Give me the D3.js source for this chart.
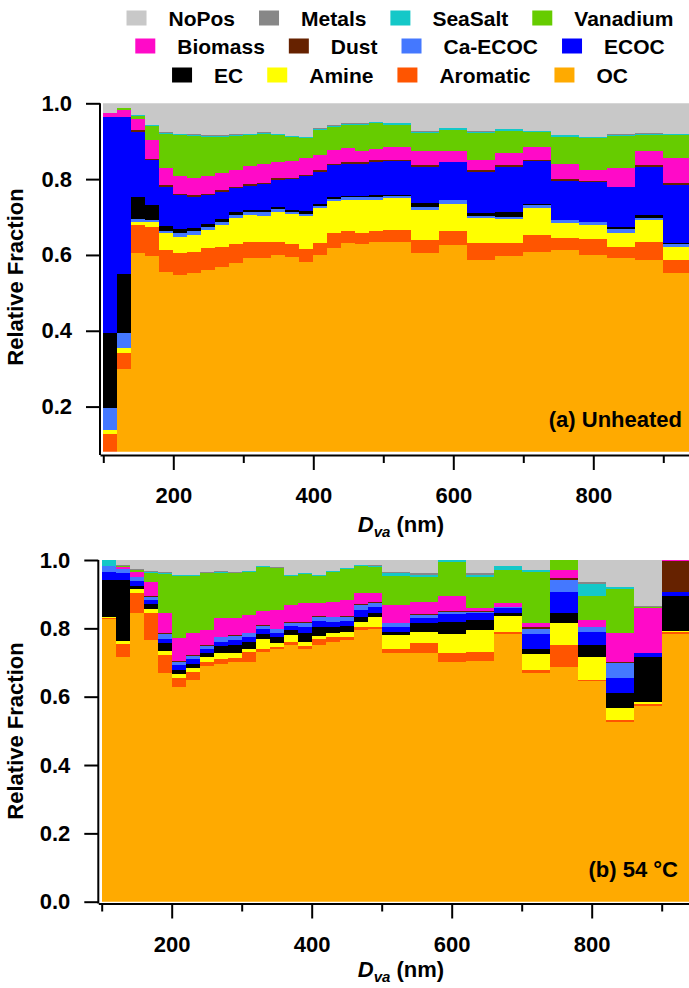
<!DOCTYPE html>
<html>
<head>
<meta charset="utf-8">
<script src="https://cdn.jsdelivr.net/npm/d3@7/dist/d3.min.js"></script>
<style>
  body { margin: 0; background: #fff; }
  text { font-family: "Liberation Sans", Arial, sans-serif; font-weight: bold; fill: #000; }
</style>
</head>
<body>
<div id="chart"></div>
<script>
// Size bins (nm): 20 nm up to 500, 40 nm above
const binEdges = [100,120,140,160,180,200,220,240,260,280,300,320,340,360,380,400,420,440,460,480,500,
                  540,580,620,660,700,740,780,820,860,900,940];

// legend order (top of stack first)
const categories = ['NoPos','Metals','SeaSalt','Vanadium','Biomass','Dust','Ca-ECOC','ECOC','EC','Amine','Aromatic','OC'];
const colors = {
  'NoPos': '#c8c8c8', 'Metals': '#878787', 'SeaSalt': '#14c8c8', 'Vanadium': '#66cc00',
  'Biomass': '#ff0ac8', 'Dust': '#662200', 'Ca-ECOC': '#4478ff', 'ECOC': '#0000ff',
  'EC': '#000000', 'Amine': '#ffff00', 'Aromatic': '#ff5500', 'OC': '#ffaa00'
};

// stacking order, bottom to top
const stackOrderA = ['OC','Aromatic','Amine','Ca-ECOC','EC','ECOC','Dust','Biomass','Vanadium','SeaSalt','Metals','NoPos'];
const stackOrderB = ['OC','Aromatic','Amine','EC','ECOC','Ca-ECOC','Dust','Biomass','Vanadium','SeaSalt','Metals','NoPos'];

// (a) Unheated - relative fraction per size bin
const unheatedOC       = [.040,.298,.604,.596,.556,.547,.552,.560,.569,.578,.591,.591,.600,.594,.582,.600,.618,.631,.629,.635,.635,.606,.626,.587,.596,.609,.613,.600,.591,.587,.552];
const unheatedAromatic = [.088,.043,.075,.079,.057,.057,.057,.058,.053,.051,.044,.042,.035,.035,.033,.031,.039,.031,.028,.027,.031,.034,.036,.044,.035,.044,.031,.041,.031,.048,.035];
const unheatedAmine    = [.010,.014,.009,.013,.044,.044,.044,.048,.057,.068,.071,.070,.079,.079,.088,.092,.084,.083,.088,.083,.083,.079,.073,.066,.063,.070,.040,.038,.035,.056,.035];
const unheatedCaECOC   = [.059,.038,.006,.004,.007,.009,.009,.009,.009,.009,.008,.009,.006,.005,.005,.006,.006,.007,.007,.007,.006,.008,.010,.006,.007,.009,.007,.007,.011,.007,.007];
const unheatedEC       = [.197,.156,.060,.040,.013,.011,.008,.007,.006,.006,.005,.007,.006,.006,.009,.006,.007,.004,.004,.005,.003,.009,.001,.007,.013,.002,.001,.002,.007,.008,.002];
const unheatedECOC     = [.571,.416,.171,.119,.103,.090,.084,.076,.073,.064,.063,.068,.072,.081,.090,.085,.083,.084,.084,.089,.089,.097,.098,.110,.119,.114,.104,.105,.103,.127,.154];
const unheatedDust     = [0,0,.004,.002,.004,.004,.004,.004,.004,.004,.004,.004,.004,.004,.004,.004,.004,.004,.004,.004,.004,.004,.002,.004,.004,.003,.004,.003,.002,.004,.004];
const unheatedBiomass  = [.010,.017,.029,.050,.045,.046,.044,.045,.044,.044,.049,.049,.044,.045,.044,.040,.036,.037,.029,.029,.035,.036,.029,.027,.031,.035,.040,.028,.049,.036,.066];
const unheatedVanadium = [0,.005,.009,.037,.090,.108,.112,.105,.097,.090,.081,.079,.070,.061,.053,.066,.061,.062,.070,.068,.057,.048,.055,.070,.060,.037,.072,.084,.085,.043,.061];
const unheatedSeaSalt  = [0,0,.001,.003,.003,.003,.003,.003,.003,.003,.003,.003,.003,.003,.003,.003,.003,.003,.003,.003,.004,.004,.004,.004,.003,.003,.004,.003,.003,.003,.003];
const unheatedMetals   = [0,0,0,0,.001,.001,.001,.001,.001,.001,.001,.001,.001,.001,.001,.001,.001,.001,.001,.001,.001,.001,.001,.001,.001,.001,.001,.001,.002,.002,.001];
const unheatedNoPos    = [.025,.013,.032,.057,.077,.080,.082,.084,.084,.082,.080,.077,.080,.086,.088,.066,.058,.053,.053,.049,.052,.074,.065,.074,.068,.073,.083,.088,.081,.079,.080];

// (b) 54 °C
const heatedOC       = [.826,.717,.844,.766,.670,.629,.649,.690,.696,.702,.702,.732,.739,.751,.739,.751,.761,.766,.795,.797,.727,.727,.702,.705,.783,.670,.688,.647,.527,.573,.782];
const heatedAromatic = [.004,.037,.058,.078,.052,.025,.024,.012,.013,.010,.030,.007,.007,.010,.009,.017,.015,.010,.010,.008,.014,.029,.025,.027,.007,.008,.062,.003,.005,.007,.006];
const heatedAmine    = [.003,.010,.012,.012,.012,.012,.010,.015,.018,.017,.009,.029,.010,.019,.013,.010,.011,.014,.015,.027,.039,.034,.056,.063,.046,.047,.065,.067,.034,.005,.004];
const heatedEC       = [.108,.177,.010,.015,.022,.012,.013,.012,.021,.022,.018,.015,.018,.015,.024,.025,.018,.017,.014,.014,.010,.025,.037,.029,.010,.016,.031,.035,.044,.132,.103];
const heatedECOC     = [.025,.020,.015,.012,.012,.015,.013,.010,.013,.015,.015,.014,.013,.012,.020,.019,.015,.015,.020,.017,.015,.014,.022,.020,.013,.042,.061,.038,.044,.012,.010];
const heatedCaECOC   = [.016,.012,.010,.010,.015,.009,.010,.009,.013,.012,.011,.010,.010,.010,.012,.012,.012,.012,.014,.012,.010,.010,.007,.005,.002,.014,.034,.013,.046,0,0];
const heatedDust     = [0,.002,.002,.002,.002,.002,.002,.002,.002,.002,.002,.002,.002,.002,.002,.002,.002,.002,.002,.002,.002,.002,.002,.003,.002,.008,.007,.002,.002,0,.092];
const heatedBiomass  = [0,.004,.015,.042,.059,.067,.064,.045,.053,.049,.052,.043,.055,.049,.054,.037,.044,.047,.034,.027,.051,.037,.044,.007,.012,.012,.024,.019,.083,.130,.003];
const heatedVanadium = [0,.002,.005,.026,.115,.182,.168,.166,.134,.132,.127,.127,.122,.085,.086,.080,.088,.090,.078,.076,.085,.071,.100,.090,.096,.149,.028,.072,.129,.004,0];
const heatedSeaSalt  = [.018,.001,.001,.003,.004,.003,.003,.002,.003,.002,.002,.003,.002,.003,.003,.003,.002,.003,.003,.003,.008,.007,.005,.007,.011,.005,0,.035,.006,0,0];
const heatedMetals   = [0,.003,.001,.001,.001,.001,.001,.001,.001,.001,.001,.001,.001,.001,.001,.001,.001,.001,.001,.001,.005,.005,0,.005,.001,.001,0,.006,.001,.001,0];
const heatedNoPos    = [0,.015,.027,.033,.036,.043,.043,.036,.033,.036,.031,.017,.021,.043,.037,.043,.031,.023,.014,.016,.034,.039,0,.039,.017,.028,0,.063,.079,.136,0];

const xMajorTicks = [200, 400, 600, 800];
const xMinorTicks = [100, 300, 500, 700, 900];

// build per-bin rows for d3.stack
function buildRows(series) {
  return binEdges.slice(0, -1).map((lo, i) => {
    const row = { lo: lo, hi: binEdges[i + 1] };
    Object.keys(series).forEach(k => { row[k] = series[k][i]; });
    return row;
  });
}

const rowsA = buildRows({
  'OC': unheatedOC, 'Aromatic': unheatedAromatic, 'Amine': unheatedAmine, 'Ca-ECOC': unheatedCaECOC,
  'EC': unheatedEC, 'ECOC': unheatedECOC, 'Dust': unheatedDust, 'Biomass': unheatedBiomass,
  'Vanadium': unheatedVanadium, 'SeaSalt': unheatedSeaSalt, 'Metals': unheatedMetals, 'NoPos': unheatedNoPos
});
const rowsB = buildRows({
  'OC': heatedOC, 'Aromatic': heatedAromatic, 'Amine': heatedAmine, 'Ca-ECOC': heatedCaECOC,
  'EC': heatedEC, 'ECOC': heatedECOC, 'Dust': heatedDust, 'Biomass': heatedBiomass,
  'Vanadium': heatedVanadium, 'SeaSalt': heatedSeaSalt, 'Metals': heatedMetals, 'NoPos': heatedNoPos
});

const width = 689, height = 988;
const svg = d3.select('#chart').append('svg')
  .attr('width', width)
  .attr('height', height);

function drawPanel(cfg) {
  const x = d3.scaleLinear().domain(cfg.xDomain).range([cfg.left, cfg.left + (cfg.xDomain[1] - cfg.xDomain[0]) * 0.7]);
  const y = d3.scaleLinear().domain(cfg.yDomain).range([cfg.bottom, cfg.top]);

  const g = svg.append('g');

  // clip plot area (panel a starts above zero)
  g.append('clipPath').attr('id', cfg.id + '-clip')
    .append('rect')
    .attr('x', cfg.left).attr('y', cfg.top)
    .attr('width', width).attr('height', cfg.bottom - cfg.top);

  const stacked = d3.stack().keys(cfg.order)(cfg.rows);

  g.append('g')
    .attr('clip-path', `url(#${cfg.id}-clip)`)
    .selectAll('g.layer')
    .data(stacked)
    .enter()
    .append('g')
    .attr('class', 'layer')
    .attr('fill', d => colors[d.key])
    .selectAll('rect')
    .data(d => d)
    .enter()
    .append('rect')
    .attr('x', d => x(d.data.lo))
    .attr('width', d => x(d.data.hi) - x(d.data.lo))
    .attr('y', d => y(d[1]))
    .attr('height', d => Math.max(0, y(d[0]) - y(d[1])))
    .attr('shape-rendering', 'crispEdges');

  // left axis
  const yAxis = g.append('g')
    .attr('transform', `translate(${cfg.left},0)`)
    .call(d3.axisLeft(y).tickValues(cfg.yTicks).tickFormat(d3.format('.1f'))
      .tickSize(14).tickSizeOuter(0).tickPadding(14));
  yAxis.select('.domain').attr('stroke-width', 2).attr('d', `M0,${cfg.axisY}V${cfg.top}`);
  yAxis.selectAll('.tick line').attr('stroke-width', 2);
  yAxis.selectAll('.tick text').style('font-size', '22px').attr('font-family', null);

  // bottom axis: minor then major ticks
  const xMinor = g.append('g')
    .attr('transform', `translate(0,${cfg.axisY})`)
    .call(d3.axisBottom(x).tickValues(xMinorTicks).tickFormat('').tickSize(8).tickSizeOuter(0));
  xMinor.select('.domain').attr('stroke-width', 2);
  xMinor.selectAll('.tick line').attr('stroke-width', 2);

  const xMajor = g.append('g')
    .attr('transform', `translate(0,${cfg.axisY})`)
    .call(d3.axisBottom(x).tickValues(xMajorTicks).tickSize(15).tickSizeOuter(0).tickPadding(cfg.labelPad));
  xMajor.select('.domain').remove();
  xMajor.selectAll('.tick line').attr('stroke-width', 2);
  xMajor.selectAll('.tick text').style('font-size', '22px').attr('font-family', null);

  // axis titles
  g.append('text')
    .attr('transform', `translate(${cfg.yTitleX},${cfg.yTitleY}) rotate(-90)`)
    .attr('text-anchor', 'middle')
    .style('font-size', '22px')
    .text('Relative Fraction');

  const xt = g.append('text')
    .attr('x', 401)
    .attr('y', cfg.xTitleY)
    .attr('text-anchor', 'middle')
    .style('font-size', '22px');
  xt.append('tspan').attr('font-style', 'italic').text('D');
  xt.append('tspan').attr('font-style', 'italic').style('font-size', '15px').attr('dy', 5).text('va');
  xt.append('tspan').attr('dy', -5).text('\u00a0(nm)');

  // panel label
  g.append('text')
    .attr('x', cfg.labelX)
    .attr('y', cfg.labelY)
    .attr('text-anchor', 'end')
    .style('font-size', '22px')
    .text(cfg.label);
}

drawPanel({
  id: 'a', rows: rowsA, order: stackOrderA,
  xDomain: [95.3, 1000], left: 100,
  yDomain: [0.081, 1.0], top: 103.3, bottom: 451.7, axisY: 455,
  yTicks: [0.2, 0.4, 0.6, 0.8, 1.0],
  labelPad: 17, yTitleX: 23, yTitleY: 277, xTitleY: 532,
  label: '(a) Unheated', labelX: 682, labelY: 427
});

drawPanel({
  id: 'b', rows: rowsB, order: stackOrderB,
  xDomain: [95.15, 1000], left: 98.3,
  yDomain: [0, 1.0], top: 560, bottom: 901.7, axisY: 903.5,
  yTicks: [0.0, 0.2, 0.4, 0.6, 0.8, 1.0],
  labelPad: 18, yTitleX: 23, yTitleY: 731, xTitleY: 977,
  label: '(b) 54 \u00b0C', labelX: 678, labelY: 877
});

// legend: three rows of four, centred
const legendRows = [categories.slice(0, 4), categories.slice(4, 8), categories.slice(8, 12)];
const legendY = [18, 46, 75];
const sw = 20, shH = 15, swGap = 22, itemGap = 24;

legendRows.forEach((row, r) => {
  const lg = svg.append('g').attr('class', 'legend-row');
  const items = lg.selectAll('g').data(row).enter().append('g');
  items.append('rect')
    .attr('width', sw).attr('height', shH)
    .attr('y', legendY[r] - shH / 2)
    .attr('fill', d => colors[d]);
  items.append('text')
    .attr('x', sw + swGap)
    .attr('y', legendY[r] + 7.5)
    .style('font-size', '21px')
    .text(d => d);
  const widths = [];
  items.each(function() { widths.push(sw + swGap + d3.select(this).select('text').node().getComputedTextLength()); });
  const total = d3.sum(widths) + itemGap * (widths.length - 1);
  let cx = 400 - total / 2;
  items.each(function(d, i) {
    d3.select(this).attr('transform', `translate(${cx},0)`);
    cx += widths[i] + itemGap;
  });
});
</script>
</body>
</html>
